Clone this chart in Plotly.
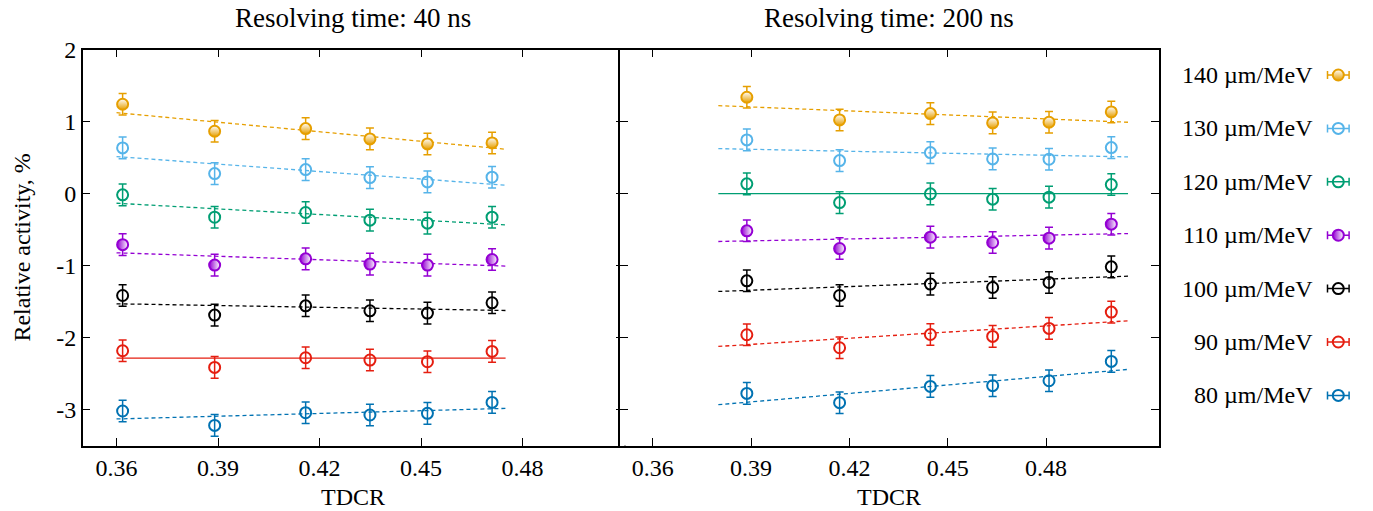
import plotly.graph_objects as go

# Birks' parameter kB for each series (µm/MeV)
kb_values = [140, 130, 120, 110, 100, 90, 80]
series_colors = ["#e69f00", "#56b4e9", "#009e73", "#9400d3", "#000000", "#e51e10", "#0072b2"]
# How the circle of each series is shaded: bottom half, left half, or open
series_fill = ["bottom", "open", "open", "left", "open", "open", "open"]

# TDCR of the measurement points for each resolving time
tdcr_40 = [0.3618, 0.3890, 0.4159, 0.4349, 0.4519, 0.4710]
tdcr_200 = [0.3887, 0.4170, 0.4447, 0.4637, 0.4809, 0.4999]

# Relative activity (%), one list per kB, resolving time 40 ns
act40_140 = [1.240, 0.865, 0.902, 0.759, 0.689, 0.703]
act40_130 = [0.634, 0.277, 0.333, 0.222, 0.162, 0.227]
act40_120 = [-0.018, -0.328, -0.263, -0.369, -0.411, -0.328]
act40_110 = [-0.709, -0.993, -0.906, -0.979, -0.993, -0.915]
act40_100 = [-1.415, -1.687, -1.558, -1.627, -1.659, -1.516]
act40_90 = [-2.182, -2.413, -2.279, -2.311, -2.334, -2.191]
act40_80 = [-3.018, -3.218, -3.042, -3.074, -3.051, -2.899]

# Relative activity (%), resolving time 200 ns
act200_140 = [1.337, 1.022, 1.110, 0.981, 0.990, 1.133]
act200_130 = [0.745, 0.458, 0.569, 0.481, 0.477, 0.638]
act200_120 = [0.135, -0.125, -0.004, -0.078, -0.050, 0.125]
act200_110 = [-0.517, -0.763, -0.605, -0.679, -0.619, -0.425]
act200_100 = [-1.211, -1.415, -1.257, -1.304, -1.234, -1.017]
act200_90 = [-1.960, -2.140, -1.956, -1.983, -1.872, -1.645]
act200_80 = [-2.774, -2.903, -2.677, -2.667, -2.598, -2.330]

# Uncertainty of each point (%)
act_err = 0.15

# Linear fits: TDCR span and fitted value at both ends
fit40_x = [0.36, 0.475]
fit40_start = [1.123, 0.513, -0.134, -0.822, -1.530, -2.283, -3.129]
fit40_end = [0.616, 0.116, -0.434, -1.007, -1.623, -2.283, -2.982]
fit200_x = [0.38, 0.505]
fit200_start = [1.221, 0.624, 0.000, -0.665, -1.359, -2.122, -2.931]
fit200_end = [0.990, 0.509, 0.000, -0.555, -1.146, -1.766, -2.441]
# Fit drawn solid (the zero-slope one) in each panel
solid40 = 90
solid200 = 120

acts40 = [act40_140, act40_130, act40_120, act40_110, act40_100, act40_90, act40_80]
acts200 = [act200_140, act200_130, act200_120, act200_110, act200_100, act200_90, act200_80]

y_ticks = [-3, -2, -1, 0, 1, 2]
y_ticktext = ["-3", "-2", "-1", "0", "1", "2"]
x_ticks = [0.36, 0.39, 0.42, 0.45, 0.48]
x_ticktext = ["0.36", "0.39", "0.42", "0.45", "0.48"]

W, H = 1373, 511
FONT = "Liberation Serif"
FS = 24


def px_x(p):
    return p / W


def px_y(p):
    return (H - p) / H


def marker_style(col, fill):
    """Circle outline in the series colour, optionally half shaded."""
    m = dict(size=11, line=dict(width=2, color=col))
    if fill == "bottom":
        m.update(symbol="circle", color="white", gradient=dict(type="vertical", color=col))
    elif fill == "left":
        m.update(symbol="circle", color=col, gradient=dict(type="horizontal", color="white"))
    else:
        m.update(symbol="circle-open", color=col)
    return m


fig = go.Figure()

panels = [
    ("x", "y", tdcr_40, acts40, fit40_x, fit40_start, fit40_end, solid40),
    ("x2", "y2", tdcr_200, acts200, fit200_x, fit200_start, fit200_end, solid200),
]

for xa, ya, tdcr, acts, fx, fs, fe, solid in panels:
    for i, kb in enumerate(kb_values):
        col = series_colors[i]
        fig.add_trace(go.Scatter(
            x=fx, y=[fs[i], fe[i]], mode="lines", xaxis=xa, yaxis=ya,
            line=dict(color=col, width=1.3, dash="solid" if kb == solid else "4px,3px"),
            showlegend=False, hoverinfo="skip"))
        fig.add_trace(go.Scatter(
            x=tdcr, y=acts[i], mode="markers", xaxis=xa, yaxis=ya,
            marker=marker_style(col, series_fill[i]),
            error_y=dict(type="constant", value=act_err, color=col, thickness=1.5, width=4),
            showlegend=False, name=f"{kb} µm/MeV"))

# Key on the right: label, then marker with a horizontal error bar
key_top = 75.0
key_step = 53.4
key_text_right = 1315
key_mark_x = 20.3
key_bar = 10.8
for i, kb in enumerate(kb_values):
    col = series_colors[i]
    row = key_top + i * key_step
    fig.add_trace(go.Scatter(
        x=[key_mark_x], y=[row], mode="markers", xaxis="x3", yaxis="y3",
        marker=marker_style(col, series_fill[i]),
        error_x=dict(type="constant", value=key_bar, color=col, thickness=1.5, width=4),
        showlegend=False, hoverinfo="skip"))
    fig.add_annotation(x=px_x(key_text_right), y=px_y(row), xref="paper", yref="paper",
                       text=f"{kb} µm/MeV", showarrow=False, xanchor="right", yanchor="middle",
                       font=dict(family=FONT, size=FS, color="#000"))

left_dom = [px_x(82.7), px_x(624.0)]
right_dom = [px_x(620.0), px_x(1158.5)]
y_dom = [px_y(445.7), px_y(49.5)]

axis_common = dict(showline=True, linecolor="#000", linewidth=1.5, mirror="ticks",
                   ticks="inside", ticklen=8, tickcolor="#000", tickwidth=1,
                   showgrid=False, zeroline=False, automargin=False,
                   tickfont=dict(family=FONT, size=FS, color="#000"))

fig.update_layout(
    template="none",
    width=W, height=H, autosize=False,
    margin=dict(l=0, r=0, t=0, b=0, pad=0, autoexpand=False),
    paper_bgcolor="white", plot_bgcolor="white",
    showlegend=False,
    xaxis=dict(domain=left_dom, range=[0.35, 0.51], tickvals=x_ticks, ticktext=x_ticktext,
               anchor="y", **axis_common),
    yaxis=dict(domain=y_dom, range=[-3.5, 2], tickvals=y_ticks, ticktext=y_ticktext,
               anchor="x", **axis_common),
    xaxis2=dict(domain=right_dom, range=[0.35, 0.5143], tickvals=x_ticks, ticktext=x_ticktext,
                anchor="y2", **axis_common),
    yaxis2=dict(domain=y_dom, range=[-3.5, 2], tickvals=y_ticks, showticklabels=False,
                anchor="x2", **axis_common),
    xaxis3=dict(domain=[px_x(1318), px_x(1358)], range=[0, 40], visible=False,
                anchor="y3", automargin=False),
    yaxis3=dict(domain=[0, 1], range=[H, 0], visible=False, anchor="x3", automargin=False),
)

# Panel titles, axis titles
for dom, title in [(left_dom, "Resolving time: 40 ns"), (right_dom, "Resolving time: 200 ns")]:
    cx = (dom[0] + dom[1]) / 2
    fig.add_annotation(x=cx, y=px_y(18), xref="paper", yref="paper", text=title,
                       showarrow=False, xanchor="center", yanchor="middle",
                       font=dict(family=FONT, size=27, color="#000"))
    fig.add_annotation(x=cx, y=px_y(497), xref="paper", yref="paper", text="TDCR",
                       showarrow=False, xanchor="center", yanchor="middle",
                       font=dict(family=FONT, size=FS, color="#000"))

fig.add_annotation(x=px_x(22), y=(y_dom[0] + y_dom[1]) / 2, xref="paper", yref="paper",
                   text="Relative activity, %", textangle=-90, showarrow=False,
                   xanchor="center", yanchor="middle",
                   font=dict(family=FONT, size=FS, color="#000"))

fig.write_html("out.html")
